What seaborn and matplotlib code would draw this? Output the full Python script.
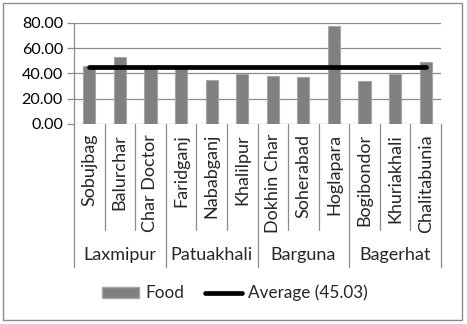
import matplotlib
matplotlib.use("Agg")
import matplotlib.pyplot as plt
import matplotlib.transforms as mtransforms
from matplotlib.patches import Rectangle, Patch
from matplotlib.lines import Line2D
import seaborn as sns
import pandas as pd

sites = ["Sobujbag", "Balurchar", "Char Doctor", "Faridganj", "Nababganj", "Khalilpur",
         "Dokhin Char", "Soherabad", "Hoglapara", "Bogibondor", "Khuriakhali", "Chalitabunia"]
districts = ["Laxmipur", "Patuakhali", "Barguna", "Bagerhat"]
district_sizes = [3, 3, 3, 3]
food = [46.1, 52.8, 45.5, 45.5, 34.7, 39.4, 38.1, 37.3, 77.8, 34.4, 39.4, 48.8]
average = 45.03
yticks = [0, 20, 40, 60, 80]

sns.set_theme(style="white")
plt.rcParams["font.family"] = ["Lato", "DejaVu Sans"]
FS_Y = 11.6
FS_CAT = 13
FS_LEG = 12.3

W, H = 467, 324
fig = plt.figure(figsize=(W / 100, H / 100), dpi=100)
fig.patch.set_facecolor("white")

# outer frame
fig.add_artist(Rectangle((3 / W, 4 / H), 459 / W, 317 / H, transform=fig.transFigure,
                         fill=False, edgecolor="#8c8c8c", linewidth=1.0))

left, right, top, bottom = 74, 441, 23, 124
ax = fig.add_axes([left / W, 1 - bottom / H, (right - left) / W, (bottom - top) / H])

df = pd.DataFrame({"site": sites, "food": food})
sns.barplot(data=df, x="site", y="food", color="#808080", saturation=1, width=0.4,
            edgecolor="#a6a6a6", linewidth=0.8, ax=ax, zorder=3)
ax.plot(range(len(sites)), [average] * len(sites), color="black", linewidth=3.4,
        solid_capstyle="round", zorder=4)

ax.set_xlim(-0.5, len(sites) - 0.5)
ax.set_ylim(0, 80)
ax.set_yticks(yticks)
ax.set_yticklabels([f"{v:.2f}" for v in yticks], fontsize=FS_Y, color="black")
ax.set_xticks([])
ax.set_xlabel("")
ax.set_ylabel("")
for y in yticks:
    ax.axhline(y, color="#8c8c8c", linewidth=0.9, zorder=1)
for s in ["top", "right", "bottom"]:
    ax.spines[s].set_visible(False)
ax.spines["left"].set_color("#8c8c8c")
ax.spines["left"].set_linewidth(0.9)
ax.tick_params(axis="y", length=5, width=0.9, color="#8c8c8c", pad=3, left=True)

# multi-level category axis
trans = mtransforms.blended_transform_factory(ax.transData, ax.transAxes)
ah = bottom - top
def ay(py):
    return (bottom - py) / ah

for i, s in enumerate(sites):
    ax.text(i, ay(134), s, rotation=90, ha="center", va="top", fontsize=FS_CAT,
            transform=trans, clip_on=False)
for b in range(1, len(sites)):
    if b % 3 != 0:
        ax.plot([b - 0.5, b - 0.5], [0, ay(230)], color="#8c8c8c", linewidth=0.9,
                transform=trans, clip_on=False)
start = 0
bounds = [-0.5]
for d, n in zip(districts, district_sizes):
    ax.text(start + (n - 1) / 2, ay(255), d, ha="center", va="center", fontsize=FS_CAT,
            transform=trans, clip_on=False)
    start += n
    bounds.append(start - 0.5)
for b in bounds:
    ax.plot([b, b], [0, ay(267)], color="#8c8c8c", linewidth=0.9,
            transform=trans, clip_on=False)

handles = [Patch(facecolor="#808080", edgecolor="#a6a6a6"),
           Line2D([0], [0], color="black", linewidth=3.4)]
fig.legend(handles, ["Food", f"Average ({average:.2f})"], loc="center",
           bbox_to_anchor=(235 / W, 1 - 293 / H), ncol=2, frameon=False, fontsize=FS_LEG,
           handlelength=2.2, handleheight=0.6, handletextpad=0.35, columnspacing=1.2)

fig.savefig("out.png", dpi=100, facecolor="white")
